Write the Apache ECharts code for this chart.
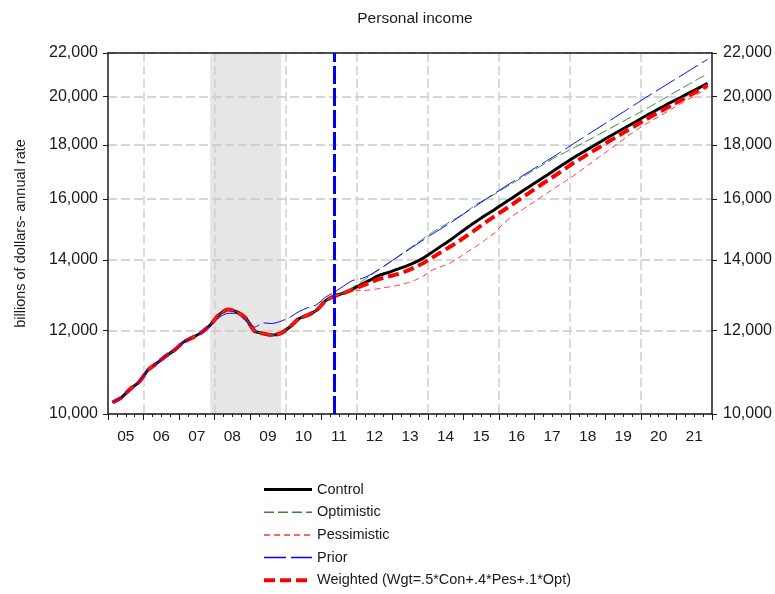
<!DOCTYPE html>
<html><head><meta charset="utf-8">
<script src="https://cdn.jsdelivr.net/npm/echarts@6/dist/echarts.min.js"></script>
<style>html,body{margin:0;padding:0;background:#fff}#c{width:775px;height:594px}</style>
</head><body><div id="c"></div>
<script>
const FONT = "'Liberation Sans Narrow','Arial Narrow','Liberation Sans',Arial,sans-serif";

// ---- axes / annotations ----
const yTicks = [10000, 12000, 14000, 16000, 18000, 20000, 22000];
const xYearLabels = ['05','06','07','08','09','10','11','12','13','14','15','16','17','18','19','20','21'];
const firstYear = 2005, lastYear = 2022;
const gridYears = [2006, 2008, 2010, 2012, 2014, 2016, 2018, 2020];
const recession = [2007.875, 2009.875];
const forecastStart = 2011.375;

// ---- data: history 2005Q1–2011Q3 (shared by all scenarios) ----
const actual = [10255, 10365, 10560, 10725, 11010, 11175, 11350, 11500, 11700, 11815, 11945, 12143,
  12420, 12565, 12500, 12330, 11985, 11920, 11880, 11932, 12100, 12316, 12410, 12547, 12810, 12937, 13020];

// ---- scenarios 2011Q4–2021Q4 ----
const control = [13136, 13265, 13396, 13534, 13618, 13713, 13803, 13918, 14056, 14241, 14429, 14618,
  14828, 15039, 15237, 15438, 15624, 15831, 16029, 16240, 16447, 16656, 16865, 17087, 17305, 17522,
  17722, 17928, 18133, 18343, 18545, 18748, 18954, 19170, 19372, 19572, 19778, 19973, 20179, 20378, 20593];
const optimistic = [13179, 13347, 13525, 13704, 13888, 14077, 14272, 14469, 14669, 14866, 15039, 15214,
  15388, 15590, 15814, 15987, 16162, 16351, 16544, 16744, 16946, 17143, 17350, 17548, 17714, 17896,
  18081, 18267, 18460, 18654, 18851, 19049, 19245, 19457, 19670, 19894, 20117, 20342, 20571, 20801, 21024];
const pessimistic = [13121, 13093, 13113, 13150, 13193, 13237, 13300, 13387, 13514, 13692, 13797, 13903,
  14071, 14257, 14429, 14634, 14844, 15155, 15404, 15597, 15796, 16005, 16216, 16422, 16627, 16846,
  17087, 17331, 17579, 17830, 18085, 18343, 18597, 18830, 19037, 19254, 19478, 19700, 19916, 20135, 20369];
const weighted = [13121, 13222, 13323, 13425, 13499, 13564, 13653, 13767, 13903, 14071, 14241, 14407,
  14586, 14779, 14980, 15194, 15398, 15597, 15803, 16015, 16226, 16447, 16656, 16872, 17095, 17324,
  17525, 17737, 17947, 18164, 18371, 18585, 18797, 19016, 19220, 19427, 19636, 19842, 20060, 20271, 20503];
// prior forecast, full span 2005Q1–2021Q4
const prior = [10255, 10365, 10560, 10725, 11010, 11175, 11350, 11500, 11700, 11815, 11945, 12143,
  12350, 12460, 12460, 12250, 12090, 12200, 12185, 12250, 12355, 12505, 12615, 12698, 12908, 13049, 13222,
  13382, 13437, 13549, 13713, 13891, 14071, 14253, 14438, 14624, 14811, 14990, 15171, 15371, 15573,
  15769, 15977, 16187, 16390, 16591, 16791, 16994, 17199, 17407, 17617, 17842, 18065, 18291, 18520,
  18748, 18983, 19216, 19457, 19700, 19951, 20192, 20436, 20683, 20932, 21185, 21441, 21699];

const quarters = [];
for (let y = 2005; y <= 2021; y++) for (let q = 1; q <= 4; q++) quarters.push(y + 'Q' + q);
const qx = s => +s.slice(0, 4) + (+s.slice(5) - 0.5) / 4;
const L = Math.log10;
const toData = vals => vals.map((v, i) => [qx(quarters[i]), L(v)]);

const chart = echarts.init(document.getElementById('c'), null, {renderer: 'canvas'});
const gridLine = {show: true, lineStyle: {color: '#c9c9c9', width: 1.5, type: [9, 4]}};
const axisBlack = {show: true, lineStyle: {color: '#1a1a1a', width: 1.5}};
const yLab = {fontFamily: FONT, fontSize: 16, color: '#1a1a1a'};
const xLab = {fontFamily: FONT, fontSize: 15.5, color: '#1a1a1a'};
const yFmt = v => Math.round(Math.pow(10, v)).toLocaleString('en-US');
const WNAME = 'Weighted (Wgt=.5*Con+.4*Pes+.1*Opt)';

chart.setOption({
  animation: false,
  backgroundColor: '#fff',
  title: {text: 'Personal income', left: 410, top: 6, textAlign: 'center',
    textStyle: {fontFamily: FONT, fontSize: 15.5, fontWeight: 'normal', color: '#1a1a1a'}},
  grid: {left: 108, right: 63, top: 53, bottom: 180, containLabel: false, outerBoundsMode: 'none'},
  legend: {
    orient: 'vertical', left: 262, top: 481, padding: 0, itemWidth: 48, itemHeight: 14, itemGap: 5.7,
    data: [
      {name: 'Control', lineStyle: {width: 3}},
      {name: 'Optimistic', lineStyle: {width: 1.5}},
      {name: 'Pessimistic', lineStyle: {width: 1.5}},
      {name: 'Prior', lineStyle: {width: 1.5}},
      {name: WNAME, lineStyle: {width: 4}}
    ],
    itemStyle: {opacity: 0},
    textStyle: {fontFamily: FONT, fontSize: 14.5, color: '#1a1a1a', lineHeight: 17}
  },
  xAxis: [{
    type: 'value', position: 'bottom', min: firstYear, max: lastYear, interval: 1,
    axisLine: axisBlack,
    axisTick: {show: true, length: 6, lineStyle: {color: '#1a1a1a', width: 1}},
    minorTick: {show: true, splitNumber: 4, length: 3, lineStyle: {color: '#1a1a1a', width: 1}},
    axisLabel: Object.assign({customValues: xYearLabels.map((_, i) => firstYear + i + 0.5),
      formatter: v => xYearLabels[Math.floor(v) - firstYear], margin: 15}, xLab),
    splitLine: {show: false}
  }, {
    type: 'value', position: 'top', min: firstYear, max: lastYear,
    axisLine: axisBlack,
    axisTick: {show: false, customValues: gridYears},
    axisLabel: {show: false},
    splitLine: {show: true, lineStyle: {color: '#d0d0d0', width: 1.5, type: [9, 4]}}
  }],
  yAxis: [{
    type: 'value', position: 'left', min: L(yTicks[0]), max: L(yTicks[yTicks.length - 1]),
    axisLine: axisBlack,
    axisTick: {show: true, length: 5, customValues: yTicks.map(L), lineStyle: {color: '#1a1a1a'}},
    axisLabel: Object.assign({customValues: yTicks.map(L), formatter: yFmt, margin: 10}, yLab),
    splitLine: gridLine,
    name: 'billions of dollars- annual rate', nameLocation: 'middle', nameGap: 80, nameRotate: 90,
    nameTextStyle: {fontFamily: FONT, fontSize: 14.5, color: '#1a1a1a'}
  }, {
    type: 'value', position: 'right', min: L(yTicks[0]), max: L(yTicks[yTicks.length - 1]),
    axisLine: axisBlack,
    axisTick: {show: true, length: 5, customValues: yTicks.map(L), lineStyle: {color: '#1a1a1a'}},
    axisLabel: Object.assign({customValues: yTicks.map(L), formatter: yFmt, margin: 11}, yLab),
    splitLine: {show: false}
  }],
  series: [
    {name: 'shade', type: 'line', data: [], z: -1, silent: true,
     markArea: {silent: true, z: -5, itemStyle: {color: '#e6e6e6'},
       data: [[{xAxis: recession[0]}, {xAxis: recession[1]}]]}},
    {name: 'Control', type: 'line', symbol: 'none', smooth: 0.2, z: 3,
     data: toData(actual.concat(control)), lineStyle: {color: '#000', width: 3}, itemStyle: {color: '#000'}},
    {name: WNAME, type: 'line', symbol: 'none', smooth: 0.2, z: 4,
     data: toData(actual.concat(weighted)), lineStyle: {color: '#ff0000', width: 4, type: [11, 5]}, itemStyle: {color: '#ff0000'}},
    {name: 'Optimistic', type: 'line', symbol: 'none', smooth: 0.2, z: 5,
     data: toData(actual.concat(optimistic)), lineStyle: {color: '#2e8b2e', width: 1, type: [10, 4]}, itemStyle: {color: '#2e8b2e'}},
    {name: 'Pessimistic', type: 'line', symbol: 'none', smooth: 0.2, z: 5,
     data: toData(actual.concat(pessimistic)), lineStyle: {color: '#ff3333', width: 1, type: [6, 4]}, itemStyle: {color: '#ff3333'}},
    {name: 'Prior', type: 'line', symbol: 'none', smooth: 0.2, z: 6,
     data: toData(prior), lineStyle: {color: '#0000ff', width: 1, type: [22, 5]}, itemStyle: {color: '#0000ff'},
     markLine: {silent: true, symbol: ['none', 'none'], label: {show: false},
       lineStyle: {color: '#0000ee', width: 3, type: [18, 4]},
       data: [{xAxis: forecastStart}]}}
  ]
});
</script></body></html>
